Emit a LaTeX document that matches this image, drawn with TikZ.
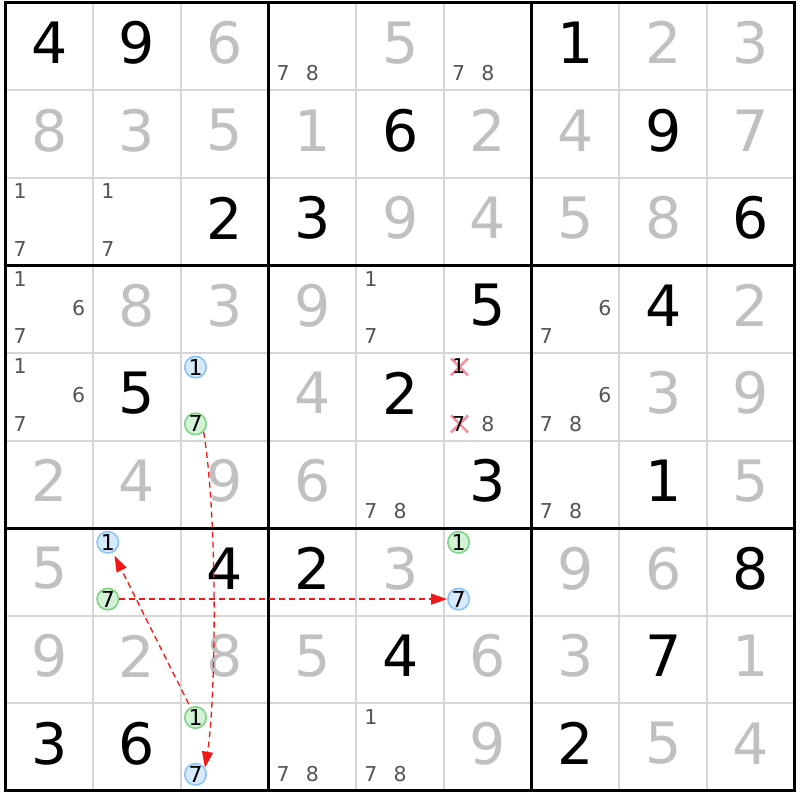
\documentclass[tikz,border=0pt]{standalone}
\usepackage{fontspec}
\setmainfont{DejaVu Sans}
\usetikzlibrary{arrows.meta,calc}
\definecolor{gridgrey}{HTML}{D6D6D6}
\definecolor{solvedgrey}{HTML}{C0C0C0}
\definecolor{candgrey}{HTML}{555555}
\definecolor{blueline}{HTML}{8CC4F8}
\definecolor{bluefill}{HTML}{D6EAFC}
\definecolor{greenline}{HTML}{7CD488}
\definecolor{greenfill}{HTML}{D4F2D4}
\definecolor{chainred}{HTML}{F01818}
\definecolor{crosspink}{HTML}{F590A0}
\begin{document}
\begin{tikzpicture}[x=1pt,y=-1pt,
  given/.style={font=\fontsize{57}{57}\selectfont, text=black, inner sep=0pt},
  solved/.style={given, text=solvedgrey},
  cand/.style={font=\fontsize{20.5}{20.5}\selectfont, text=candgrey, inner sep=0pt},
  crossed/.style={cand, text=black},
  bluecirc/.style={circle, draw=blueline, fill=bluefill, line width=1.6pt, minimum size=21.5pt, inner sep=0pt, font=\fontsize{22}{22}\selectfont, text=black},
  greencirc/.style={bluecirc, draw=greenline, fill=greenfill},
  thinline/.style={draw=gridgrey, line width=2pt},
  thickline/.style={draw=black, line width=3pt},
  crossline/.style={draw=crosspink, line width=2.6pt},
  chain/.style={draw=chainred, line width=1.3pt, dash pattern=on 6pt off 4pt, -{Triangle[length=16pt,width=11pt]}},
]
\fill[white] (0,0) rectangle (800,800);
\useasboundingbox (0,0) rectangle (800,800);
\def\gx{5.5}\def\gy{2.5}\def\cw{87.7}\def\ch{87.6}
% thin lines
\foreach \i in {1,2,4,5,7,8}{
  \draw[thinline] ({\gx+\cw*\i},\gy) -- ({\gx+\cw*\i},{\gy+9*\ch});
  \draw[thinline] (\gx,{\gy+\ch*\i}) -- ({\gx+9*\cw},{\gy+\ch*\i});
}
% thick lines
\foreach \i in {0,3,6,9}{
  \draw[thickline] ({\gx+\cw*\i},{\gy-1.5}) -- ({\gx+\cw*\i},{\gy+9*\ch+1.5});
  \draw[thickline] ({\gx-1.5},{\gy+\ch*\i}) -- ({\gx+9*\cw+1.5},{\gy+\ch*\i});
}
% given digits
\foreach \r/\c/\d in {0/0/4,0/1/9,0/6/1,1/4/6,1/7/9,2/2/2,2/3/3,2/8/6,3/5/5,3/7/4,4/1/5,4/4/2,5/5/3,5/7/1,6/2/4,6/3/2,6/8/8,7/4/4,7/7/7,8/0/3,8/1/6,8/6/2}{
  \node[given] (g-\r-\c) at ({\gx+\cw*(\c+0.5)},{\gy+\ch*(\r+0.5)-3.5}) {\d};
}
% solved digits
\foreach \r/\c/\d in {0/2/6,0/4/5,0/7/2,0/8/3,1/0/8,1/1/3,1/2/5,1/3/1,1/5/2,1/6/4,1/8/7,2/4/9,2/5/4,2/6/5,2/7/8,3/1/8,3/2/3,3/3/9,3/8/2,4/3/4,4/7/3,4/8/9,5/0/2,5/1/4,5/2/9,5/3/6,5/8/5,6/0/5,6/4/3,6/6/9,6/7/6,7/0/9,7/1/2,7/2/8,7/3/5,7/5/6,7/6/3,7/8/1,8/5/9,8/7/5,8/8/4}{
  \node[solved] (g-\r-\c) at ({\gx+\cw*(\c+0.5)},{\gy+\ch*(\r+0.5)-3.5}) {\d};
}
% candidates
\foreach \r/\c/\n in {0/3/7,0/3/8,0/5/7,0/5/8,2/0/1,2/0/7,2/1/1,2/1/7,3/0/1,3/0/6,3/0/7,3/4/1,3/4/7,3/6/6,3/6/7,4/0/1,4/0/6,4/0/7,4/5/8,4/6/6,4/6/7,4/6/8,5/4/7,5/4/8,5/6/7,5/6/8,8/3/7,8/3/8,8/4/1,8/4/7,8/4/8}{
  \pgfmathtruncatemacro\sr{(\n-1)/3}
  \pgfmathtruncatemacro\sc{\n-1-3*\sr}
  \node[cand] (k-\r-\c-\n) at ({\gx+\cw*\c+14.6+29.25*\sc},{\gy+\ch*\r+13.5+28.75*\sr}) {\n};
}
% crossed candidates
\foreach \r/\c/\n in {4/5/1,4/5/7}{
  \pgfmathtruncatemacro\sr{(\n-1)/3}
  \pgfmathtruncatemacro\sc{\n-1-3*\sr}
  \coordinate (xc-\r-\c-\n) at ({\gx+\cw*\c+15.5+29.25*\sc},{\gy+\ch*\r+14+28.5*\sr});
  \draw[crossline] ($(xc-\r-\c-\n)+(-8.5,-8.5)$) -- ($(xc-\r-\c-\n)+(8.5,8.5)$);
  \draw[crossline] ($(xc-\r-\c-\n)+(-8.5,8.5)$) -- ($(xc-\r-\c-\n)+(8.5,-8.5)$);
  \node[crossed] (x-\r-\c-\n) at ({\gx+\cw*\c+14.6+29.25*\sc},{\gy+\ch*\r+13.5+28.75*\sr}) {\n};
}
% circled candidates
\foreach \r/\c/\n/\s in {4/2/1/bluecirc,4/2/7/greencirc,6/1/1/bluecirc,6/1/7/greencirc,6/5/1/greencirc,6/5/7/bluecirc,8/2/1/greencirc,8/2/7/bluecirc}{
  \pgfmathtruncatemacro\sr{(\n-1)/3}
  \pgfmathtruncatemacro\sc{\n-1-3*\sr}
  \node[\s] (c-\r-\c-\n) at ({\gx+\cw*\c+14.6+29.25*\sc},{\gy+\ch*\r+14.2+28.4*\sr}) {\n};
}
% chains
\draw[chain] (c-4-2-7.-45) .. controls ($(c-4-2-7)+(22.5,95)$) and ($(c-8-2-7)+(20.5,-74)$) .. (c-8-2-7.35);
\draw[chain, shorten <=3.5pt, shorten >=3.5pt] (c-8-2-1) -- (c-6-1-1);
\draw[chain] (c-6-1-7) -- (c-6-5-7);
\end{tikzpicture}
\end{document}
